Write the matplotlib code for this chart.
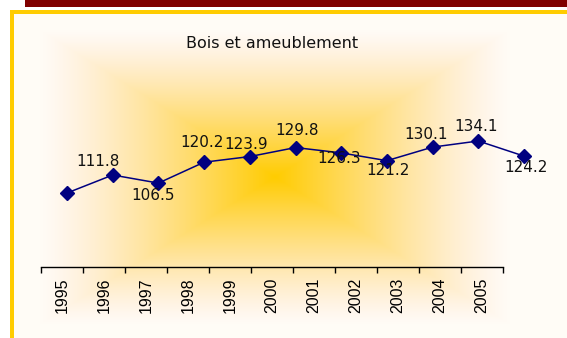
import numpy as np
import matplotlib.pyplot as plt
from matplotlib.patches import Rectangle

#---Data
years = ["1995", "1996", "1997", "1998", "1999", "2000",
         "2001", "2002", "2003", "2004", "2005"]
index_values = [100.0, 111.8, 106.5, 120.2, 123.9, 129.8,
                126.3, 121.2, 130.1, 134.1, 124.2]
title = "Bois et ameublement"

# label offsets from each marker, in pixels (dx, dy down); no label on the base year
label_offsets = [None, (-15, -15), (-5, 11), (-2, -21), (-4, -13), (2, -18),
                 (-2, 5), (1, 9), (-7, -14), (-2, -16), (2, 10)]

W, H = 567, 338
NAVY = "#000080"
GOLD = "#FFCC00"

fig = plt.figure(figsize=(W / 100, H / 100), dpi=100)

#---Background: "from centre" fill (rectangular rings) plus frame
bg = fig.add_axes([0, 0, 1, 1])
yy, xx = np.mgrid[0:H, 0:W] + 0.5
t = np.maximum(np.abs(xx - 275) / 235, np.abs(yy - 177) / 147)
w = np.clip(1 - t, 0, 1)
img = np.ones((H, W, 3))
img[..., 1] = (252 - 48 * w ** 0.9) / 255
img[..., 2] = (246 - 246 * w ** 1.3) / 255
img[(xx < 10) | (yy < 10)] = 1.0
bg.imshow(img, extent=(0, W, H, 0), interpolation="bilinear")
bg.add_patch(Rectangle((25, 0), W - 25, 6.5, color="#800000", lw=0))
bg.add_patch(Rectangle((10, 10), W - 10, 4, color=GOLD, lw=0))
bg.add_patch(Rectangle((10, 10), 4, H - 10, color=GOLD, lw=0))
bg.set_xlim(0, W)
bg.set_ylim(H, 0)
bg.axis("off")

#---Category axis
axx = fig.add_axes([41 / W, (H - 267) / H, (503 - 41) / W, 0.02])
axx.patch.set_visible(False)
for side in ["top", "left", "right"]:
    axx.spines[side].set_visible(False)
axx.spines["bottom"].set_linewidth(1.0)
axx.set_xlim(0, len(years))
axx.set_xticks(np.arange(len(years) + 1))
axx.set_xticklabels([])
axx.set_xticks(np.arange(len(years)) + 0.5, minor=True)
axx.set_xticklabels(years, minor=True, rotation=90, fontsize=11.5,
                    family="Liberation Sans")
axx.tick_params(axis="x", which="major", length=4, width=1, direction="out")
axx.tick_params(axis="x", which="minor", length=0, pad=7.5)
axx.set_yticks([])

#---Series
ax = fig.add_axes([0, 0, 1, 1])
ax.patch.set_visible(False)
ax.axis("off")
ax.set_xlim(-67 / 45.7, (W - 67) / 45.7)
ax.set_ylim(100 - 145 / 1.525, 100 + 193 / 1.525)
x = np.arange(len(years))
ax.plot(x, index_values, color=NAVY, lw=1.1, marker="D", ms=7,
        markerfacecolor=NAVY, markeredgecolor=NAVY)

for i, v in enumerate(index_values):
    if label_offsets[i] is None:
        continue
    dx, dy = label_offsets[i]
    ax.annotate(f"{v:.1f}", (i, v), xytext=(dx * 0.72, -(dy + 5.6) * 0.72),
                textcoords="offset points", ha="center", va="baseline",
                fontsize=11, family="DejaVu Sans", color="#111111")

fig.text(272.5 / W, 1 - 48 / H, title, ha="center", va="baseline",
         fontsize=11.5, family="DejaVu Sans", color="#111111")

fig.savefig("out.png", dpi=100)
